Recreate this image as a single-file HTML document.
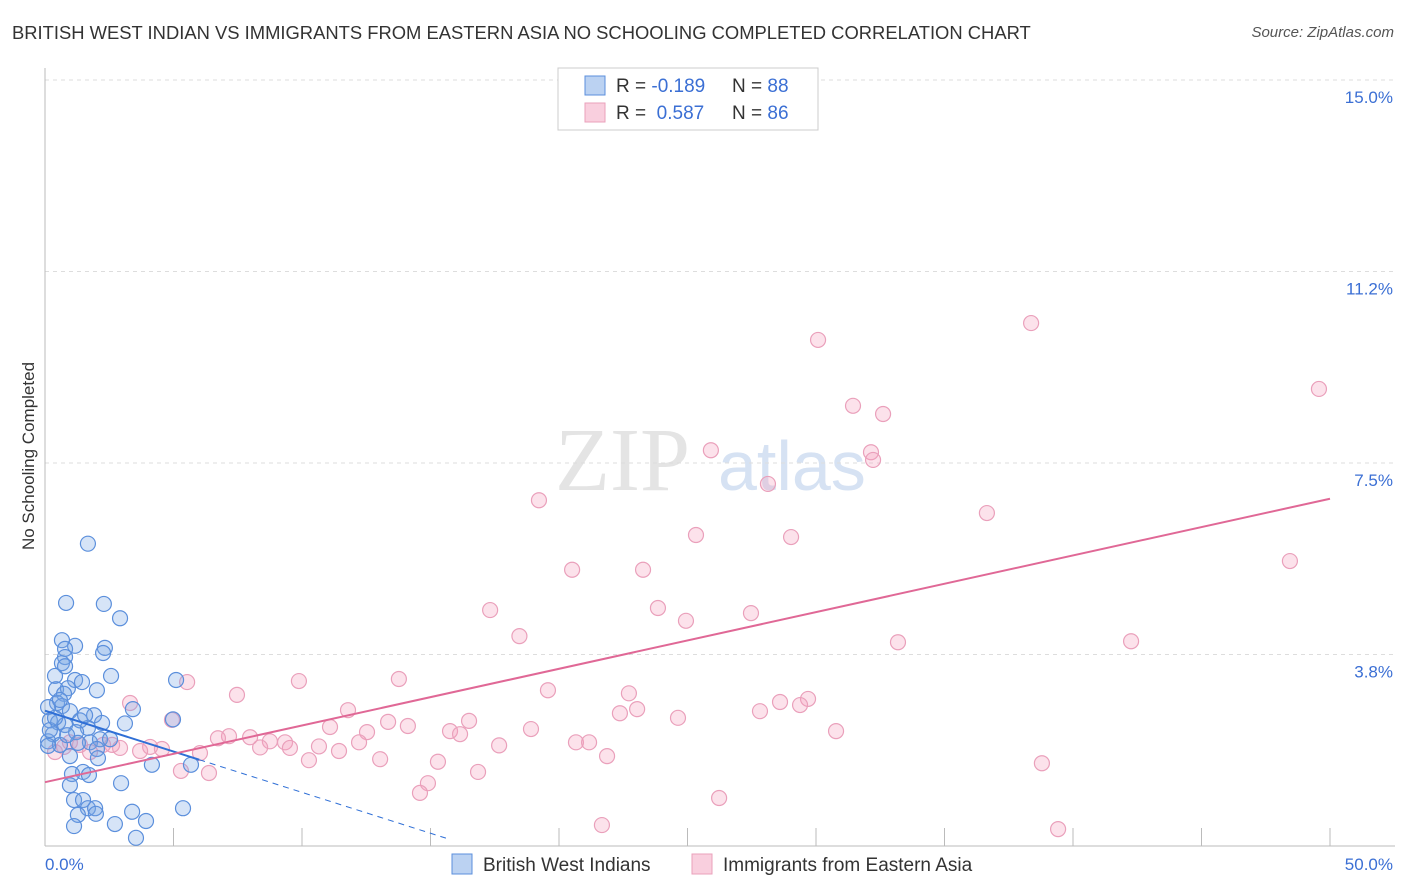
<!DOCTYPE html>
<html><head><meta charset="utf-8">
<style>
body{margin:0;background:#fff;font-family:"Liberation Sans",sans-serif;}
#wrap{position:relative;width:1406px;height:892px;overflow:hidden;}
.title{position:absolute;left:12px;top:22px;font-size:18.4px;color:#333;white-space:nowrap;}
.source{position:absolute;right:12px;top:24px;font-size:15px;color:#555;font-style:italic;}
</style></head><body>
<div id="wrap">
<div class="title">BRITISH WEST INDIAN VS IMMIGRANTS FROM EASTERN ASIA NO SCHOOLING COMPLETED CORRELATION CHART</div>
<div class="source">Source: ZipAtlas.com</div>
<svg id="chart" width="1406" height="892" style="position:absolute;left:0;top:0"></svg>
</div>
<script>
const blueX=[1.67,0.82,2.29,2.92,0.66,1.17,0.78,2.33,0.78,2.26,0.66,0.78,2.57,5.1,0.39,1.17,1.44,0.43,0.89,2.02,0.74,0.47,0.66,3.42,0.12,0.97,1.91,4.98,3.11,0.19,0.51,1.36,0.78,2.22,1.67,1.21,0.31,0.12,1.75,2.14,2.53,0.58,1.28,2.02,0.97,2.06,4.16,5.68,1.48,1.05,1.71,2.96,0.97,1.13,1.48,5.37,1.67,1.95,3.39,1.28,1.98,3.93,2.72,1.13,3.54,0.12,0.19,0.39,0.58,1.56,0.86];
const blueY=[5.92,4.76,4.74,4.46,4.03,3.92,3.86,3.88,3.70,3.78,3.58,3.52,3.33,3.25,3.33,3.25,3.21,3.07,3.09,3.05,2.98,2.80,2.74,2.68,2.72,2.64,2.56,2.48,2.40,2.46,2.42,2.46,2.37,2.41,2.31,2.23,2.19,2.05,2.03,2.09,2.09,1.98,2.02,1.90,1.76,1.72,1.59,1.59,1.45,1.41,1.39,1.23,1.19,0.90,0.90,0.74,0.74,0.74,0.67,0.61,0.63,0.49,0.43,0.39,0.16,1.96,2.27,2.51,2.86,2.56,2.17];
const pinkX=[38.37,30.08,49.57,31.44,32.61,32.14,32.22,25.91,28.13,19.22,36.65,25.33,29.03,48.44,20.51,23.27,17.32,23.85,27.47,24.94,18.46,33.19,42.26,9.88,13.77,5.53,3.31,7.47,19.57,22.72,29.69,28.6,29.38,23.04,22.37,27.82,11.79,4.94,16.5,24.63,13.35,14.12,11.09,15.76,18.91,30.78,7.16,6.73,7.98,9.34,16.15,12.53,8.75,12.22,17.67,20.66,21.17,10.66,8.37,9.53,6.03,11.44,2.92,4.09,4.55,2.26,0.97,0.74,0.39,1.75,21.87,13.04,15.29,10.27,5.29,6.38,16.85,38.79,14.9,14.59,26.23,21.67,39.42,2.61,1.36,3.70];
const pinkY=[10.24,9.91,8.95,8.62,8.46,7.71,7.56,7.75,7.09,6.77,6.52,6.09,6.05,5.58,5.41,5.41,4.62,4.66,4.56,4.41,4.11,3.99,4.01,3.23,3.27,3.21,2.80,2.96,3.05,2.99,2.88,2.82,2.76,2.68,2.60,2.64,2.66,2.47,2.45,2.51,2.43,2.35,2.33,2.25,2.29,2.25,2.15,2.11,2.13,2.03,2.19,2.23,2.05,2.03,1.97,2.03,2.03,1.95,1.93,1.92,1.82,1.86,1.92,1.94,1.90,1.98,2.03,1.94,1.84,1.84,1.76,1.70,1.65,1.68,1.47,1.43,1.45,1.62,1.23,1.04,0.94,0.41,0.33,1.98,1.98,1.86];
const xTicks=[0,5,10,15,20,25,30,35,40,45,50];
const yTicks=[3.75,7.5,11.25,15];
const yTickLabels=["3.8%","7.5%","11.2%","15.0%"];
const blueFit=[2.65,-0.16];
const pinkFit=[1.25,0.111];

const X0=45,X1=1330,Y0=846,Y1=80;
const sx=v=>X0+(v/50)*(X1-X0);
const sy=v=>Y0-(v/15)*(Y0-Y1);
const svg=document.getElementById('chart');
const NS='http://www.w3.org/2000/svg';
function mk(t,a){const e=document.createElementNS(NS,t);for(const k in a)e.setAttribute(k,a[k]);svg.appendChild(e);return e;}

let wm=mk('text',{x:555,y:490,'font-size':90,fill:'#e4e4e4','font-family':'Liberation Serif, serif'});wm.textContent='ZIP';


let wm2=mk('text',{x:718,y:490,'font-size':70,fill:'#d6e2f3','font-family':'Liberation Sans, sans-serif'});wm2.textContent='atlas';



yTicks.forEach((t,i)=>{
  const g=mk('line',{x1:X0,x2:1395,y1:sy(t),y2:sy(t),stroke:'#ddd','stroke-dasharray':'4,4'});
  
  
  const l=mk('text',{x:1393,y:sy(t)+23,'text-anchor':'end','font-size':17,fill:'#3b6fd4'});
  l.textContent=yTickLabels[i];
  
  
});
let ax=mk('line',{x1:X0,x2:X0,y1:68,y2:Y0,stroke:'#bbb'});


let bx=mk('line',{x1:X0,x2:1395,y1:Y0,y2:Y0,stroke:'#bbb'});


xTicks.forEach(t=>{
  const k=mk('line',{x1:sx(t),x2:sx(t),y1:828,y2:Y0,stroke:'#bbb'});
  
  
});
let xl0=mk('text',{x:45,y:870,'font-size':17,fill:'#3b6fd4'});xl0.textContent='0.0%';


let xl1=mk('text',{x:1393,y:870,'font-size':17,fill:'#3b6fd4','text-anchor':'end'});xl1.textContent='50.0%';


let yt=mk('text',{x:34,y:456,'font-size':17,fill:'#333','text-anchor':'middle',transform:'rotate(-90 34 456)'});yt.textContent='No Schooling Completed';



pinkX.forEach((x,i)=>{
  const c=mk('circle',{cx:sx(x),cy:sy(pinkY[i]),r:7.5,fill:'rgba(244,160,190,0.3)',stroke:'#eaa0bb','stroke-width':1.2});
  
  
});
blueX.forEach((x,i)=>{
  const c=mk('circle',{cx:sx(x),cy:sy(blueY[i]),r:7.5,fill:'rgba(120,165,230,0.3)',stroke:'#5b8fdc','stroke-width':1.2});
  
  
});
const bf=x=>blueFit[0]+blueFit[1]*x, pf=x=>pinkFit[0]+pinkFit[1]*x;
let bl=mk('line',{x1:sx(0),y1:sy(bf(0)),x2:sx(6),y2:sy(bf(6)),stroke:'#2f6fd6','stroke-width':2});


let bd=mk('line',{x1:sx(6),y1:sy(bf(6)),x2:sx(15.6),y2:sy(bf(15.6)),stroke:'#2f6fd6','stroke-width':1,'stroke-dasharray':'6,5'});


let pl=mk('line',{x1:sx(0),y1:sy(pf(0)),x2:sx(50),y2:sy(pf(50)),stroke:'#e06896','stroke-width':2});



let lb=mk('rect',{x:558,y:68,width:260,height:62,fill:'#fff',stroke:'#ccc'});


[[0,'rgba(120,165,230,0.5)','#5b8fdc','-0.189','88'],[1,'rgba(244,160,190,0.5)','#eaa0bb','0.587','86']].forEach(r=>{
  const y=76+r[0]*27;
  const s=mk('rect',{x:585,y:y,width:20,height:19,fill:r[1],stroke:r[2]});
  
  
  const t=mk('text',{x:616,y:y+16,'font-size':19,fill:'#333'});
  t.innerHTML='R = <tspan fill="#3b6fd4">'+(r[0]?'&#160;':'')+r[3]+'</tspan><tspan x="732">N = </tspan><tspan fill="#3b6fd4">'+r[4]+'</tspan>';
  
  
});
[[450,'rgba(120,165,230,0.5)','#5b8fdc','British West Indians'],[690,'rgba(244,160,190,0.5)','#eaa0bb','Immigrants from Eastern Asia']].forEach(r=>{
  const s=mk('rect',{x:r[0]+2,y:854,width:20,height:20,fill:r[1],stroke:r[2]});
  
  
  const t=mk('text',{x:r[0]+33,y:871,'font-size':19,fill:'#333'});
  t.textContent=r[3];
  
  
});
</script>
</body></html>
